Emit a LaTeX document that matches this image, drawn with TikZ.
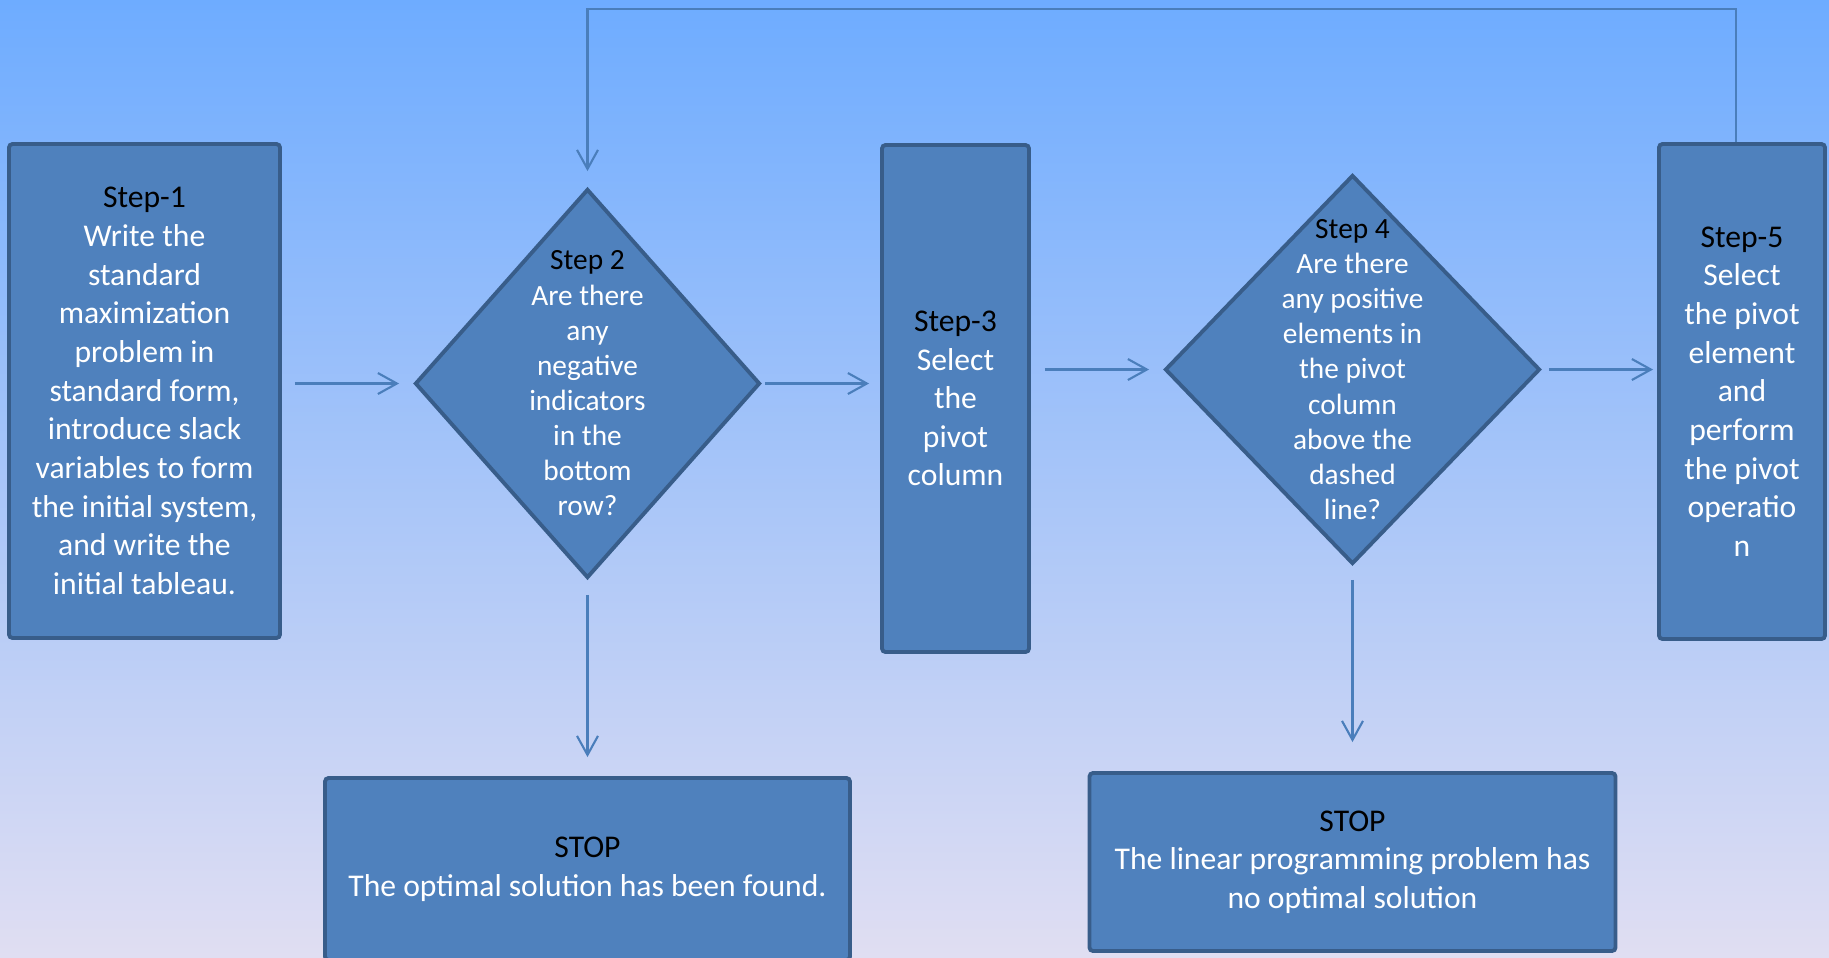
\documentclass[tikz,border=0pt]{standalone}
\usepackage{fontspec}
\setmainfont{Carlito}
\usetikzlibrary{shapes.geometric, arrows.meta}

\definecolor{boxfill}{HTML}{4F81BD}
\definecolor{boxline}{HTML}{385D8A}
\definecolor{arrowline}{HTML}{4A7EBB}
\definecolor{skytop}{RGB}{110,172,255}
\definecolor{skymid}{RGB}{140,192,249}
\definecolor{skybot}{RGB}{224,222,242}

\begin{document}
\begin{tikzpicture}[
    stepbox/.style={draw=boxline, fill=boxfill, line width=1.1pt, rounded corners=1pt,
        text=white, align=center, inner sep=0pt, font=\fontsize{9}{11}\selectfont},
    decision/.style={diamond, draw=boxline, fill=boxfill, line width=1.1pt, inner sep=0pt},
    qtext/.style={text=white, align=center, inner sep=0pt, font=\fontsize{8.35}{10}\selectfont},
    conn/.style={draw=arrowline, line width=0.6pt, -{Straight Barb[length=1.9mm, width=2.1mm]}}
    ]
    \useasboundingbox (0,0) rectangle (18.29,-9.57);
    \fill[top color=skytop, middle color=skymid, bottom color=skybot] (0,0) rectangle (18.29,-9.57);

    % boxes
    \node[stepbox, minimum width=2.71cm, minimum height=4.94cm] (s1) at (1.445,-3.91)
        {\textcolor{black}{Step-1}\\Write the\\standard\\maximization\\problem in\\standard form,\\introduce slack\\variables to form\\the initial system,\\and write the\\initial tableau.};
    \node[decision, minimum width=3.45cm, minimum height=3.89cm] (d2) at (5.875,-3.835) {};
    \node[qtext] (d2txt) at (d2) {\textcolor{black}{Step 2}\\Are there\\any\\negative\\indicators\\in the\\bottom\\row?};
    \node[stepbox, minimum width=1.47cm, minimum height=5.07cm] (s3) at (9.555,-3.985)
        {\textcolor{black}{Step-3}\\Select\\the\\pivot\\column};
    \node[decision, minimum width=3.75cm, minimum height=3.89cm] (d4) at (13.525,-3.695) {};
    \node[qtext] (d4txt) at (d4) {\textcolor{black}{Step 4}\\Are there\\any positive\\elements in\\the pivot\\column\\above the\\dashed\\line?};
    \node[stepbox, minimum width=1.66cm, minimum height=4.95cm] (s5) at (17.42,-3.915)
        {\textcolor{black}{Step-5}\\Select\\the pivot\\element\\and\\perform\\the pivot\\operatio\\n};
    \node[stepbox, minimum width=5.25cm, minimum height=1.82cm] (stop1) at (5.875,-8.69)
        {\textcolor{black}{STOP}\\The optimal solution has been found.};
    \node[stepbox, minimum width=5.26cm, minimum height=1.78cm] (stop2) at (13.525,-8.62)
        {\textcolor{black}{STOP}\\The linear programming problem has\\no optimal solution};

    % arrows
    \draw[conn, shorten <=1.3mm, shorten >=1.4mm] (d2.west -| s1.east) -- (d2.west);
    \draw[conn, shorten <=0.3mm, shorten >=1.1mm] (d2.east) -- (d2.east -| s3.west);
    \draw[conn, shorten <=1.4mm, shorten >=1.4mm] (d4.west -| s3.east) -- (d4.west);
    \draw[conn, shorten <=0.7mm, shorten >=0.4mm] (d4.east) -- (d4.east -| s5.west);
    \draw[conn, shorten <=1.5mm, shorten >=1.9mm] (d2.south) -- (d2.south |- stop1.north);
    \draw[conn, shorten <=1.4mm, shorten >=2.9mm] (d4.south) -- (d4.south |- stop2.north);
    \coordinate (loop) at (17.36,-0.09);
    \draw[conn, shorten >=1.6mm] (s5.north -| loop) -- (loop) -| (d2.north);
\end{tikzpicture}
\end{document}
